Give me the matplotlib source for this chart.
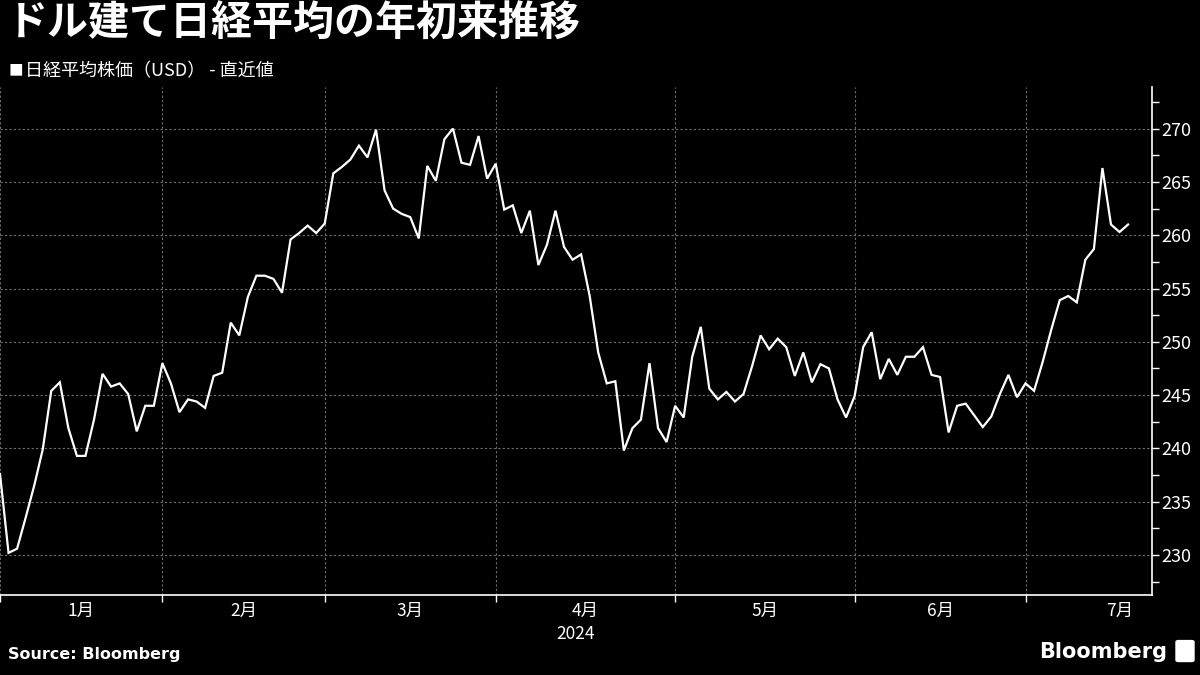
#!/usr/bin/env python3
"""
ドル建て日経平均の年初来推移 - Bloomberg style line chart
"""

import numpy as np
import matplotlib
matplotlib.use("Agg")
import matplotlib.pyplot as plt
import matplotlib.transforms as mtransforms
from matplotlib.patches import FancyBboxPatch
from matplotlib.ticker import MultipleLocator, FixedLocator, FixedFormatter

plt.rcParams['font.family'] = ['Noto Sans CJK JP', 'DejaVu Sans']

# Nikkei 225 in USD, one value per trading day
values = [
    # Jan
    237.6, 230.2, 230.6, 233.5, 236.5, 239.9, 245.4, 246.2, 241.9, 239.3,
    239.3, 242.7, 247.0, 245.8, 246.1, 245.1, 241.6, 244.0, 244.0,
    # Feb
    248.0, 246.1, 243.4, 244.6, 244.4, 243.8, 246.8, 247.1, 251.8, 250.6,
    254.2, 256.2, 256.2, 255.9, 254.6, 259.6, 260.2, 260.9, 260.2,
    # Mar
    261.1, 265.8, 266.4, 267.1, 268.4, 267.3, 269.9, 264.2, 262.5, 262.0,
    261.7, 259.7, 266.5, 265.1, 269.0, 270.0, 266.8, 266.6, 269.3, 265.3,
    # Apr
    266.7, 262.4, 262.8, 260.2, 262.3, 257.2, 259.1, 262.3, 258.9, 257.7,
    258.2, 254.3, 249.0, 246.1, 246.3, 239.8, 241.9, 242.7, 248.0, 241.9,
    240.6,
    # May
    244.0, 242.9, 248.6, 251.4, 245.6, 244.6, 245.3, 244.4, 245.1, 247.7,
    250.6, 249.3, 250.3, 249.5, 246.8, 249.0, 246.2, 247.9, 247.5, 244.6,
    242.9,
    # Jun
    244.9, 249.5, 250.9, 246.5, 248.4, 246.9, 248.6, 248.6, 249.5, 246.9,
    246.7, 241.5, 244.0, 244.2, 243.1, 242.0, 243.0, 245.1, 246.9, 244.8,
    # Jul
    246.1, 245.4, 248.1, 251.1, 253.9, 254.3, 253.7, 257.7, 258.7, 266.3,
    261.0, 260.3, 261.0,
]

month_labels = ['1月', '2月', '3月', '4月', '5月', '6月', '7月']
month_days = [19, 19, 20, 21, 21, 20, 22]   # trading days per month (full month)
year_label = '2024'
y_ticks = [230, 235, 240, 245, 250, 255, 260, 265, 270]

title = 'ドル建て日経平均の年初来推移'
legend_text = '日経平均株価（USD） - 直近値'
source = 'Source: Bloomberg'

BG = 'black'
FG = 'white'
GRID = '#6e6e6e'

fig = plt.figure(figsize=(12, 6.75), dpi=100, facecolor=BG)
ax = fig.add_axes([0.0, 0.1185, 0.96, 0.7526], facecolor=BG)

x = np.arange(len(values))
ax.plot(x, values, color=FG, linewidth=1.6, solid_joinstyle='miter')

x_end = 134.8
ax.set_xlim(0, x_end)
ax.set_ylim(226.25, 273.9)

# month boundaries and label centres
edges = np.concatenate([[0], np.cumsum(month_days)])
bounds = edges[:-1]
centers = (edges[:-1] + edges[1:]) / 2

for b in bounds:
    ax.axvline(b, color=GRID, linewidth=0.8, linestyle=(0, (2, 2)), zorder=0)
for yv in y_ticks:
    ax.axhline(yv, color=GRID, linewidth=0.8, linestyle=(0, (2, 2)), zorder=0)

# x axis: ticks at boundaries, labels at month centres
ax.xaxis.set_major_locator(FixedLocator(list(bounds)))
ax.xaxis.set_minor_locator(FixedLocator(list(centers)))
ax.xaxis.set_minor_formatter(FixedFormatter(month_labels))
ax.set_xticklabels([])
ax.tick_params(axis='x', which='major', direction='out', length=5, width=1, color=FG)
ax.tick_params(axis='x', which='minor', length=0, pad=5, labelsize=12.5, labelcolor=FG)

# year label under April
trans = mtransforms.blended_transform_factory(ax.transData, fig.transFigure)
ax.text(centers[3] - 1.2, 0.061, year_label, transform=trans,
        ha='center', va='center', color=FG, fontsize=12.5)

# y axis on the right
ax.yaxis.tick_right()
ax.yaxis.set_major_locator(FixedLocator(y_ticks))
ax.yaxis.set_minor_locator(MultipleLocator(2.5))
ax.tick_params(axis='y', which='major', direction='out', length=5, width=1,
               color=FG, labelcolor=FG, labelsize=13, pad=2)
ax.tick_params(axis='y', which='minor', direction='out', length=5, width=1, color=FG)

for side in ['left', 'top']:
    ax.spines[side].set_visible(False)
for side in ['right', 'bottom']:
    ax.spines[side].set_color(FG)
    ax.spines[side].set_linewidth(1.2)

# texts
fig.text(0.006, 0.965, title, color=FG, fontsize=29.5, fontweight='bold',
         ha='left', va='center')
fig.text(0.007, 0.894, '■', color=FG, fontsize=10.5, ha='left', va='center')
fig.text(0.021, 0.894, legend_text, color=FG, fontsize=13, ha='left', va='center')
fig.text(0.007, 0.019, source, color=FG, fontsize=11.5, fontweight='bold',
         ha='left', va='bottom', family=['DejaVu Sans'])
fig.text(0.973, 0.019, 'Bloomberg', color=FG, fontsize=15, fontweight='bold',
         ha='right', va='bottom', family=['DejaVu Sans'])

# small logo mark next to the Bloomberg wordmark
logo = FancyBboxPatch((0.982, 0.022), 0.011, 0.027, boxstyle='round,pad=0.002',
                      transform=fig.transFigure, facecolor=FG, edgecolor=FG)
fig.patches.append(logo)

plt.savefig('out.png', dpi=100, facecolor=BG)
print("saved out.png")
